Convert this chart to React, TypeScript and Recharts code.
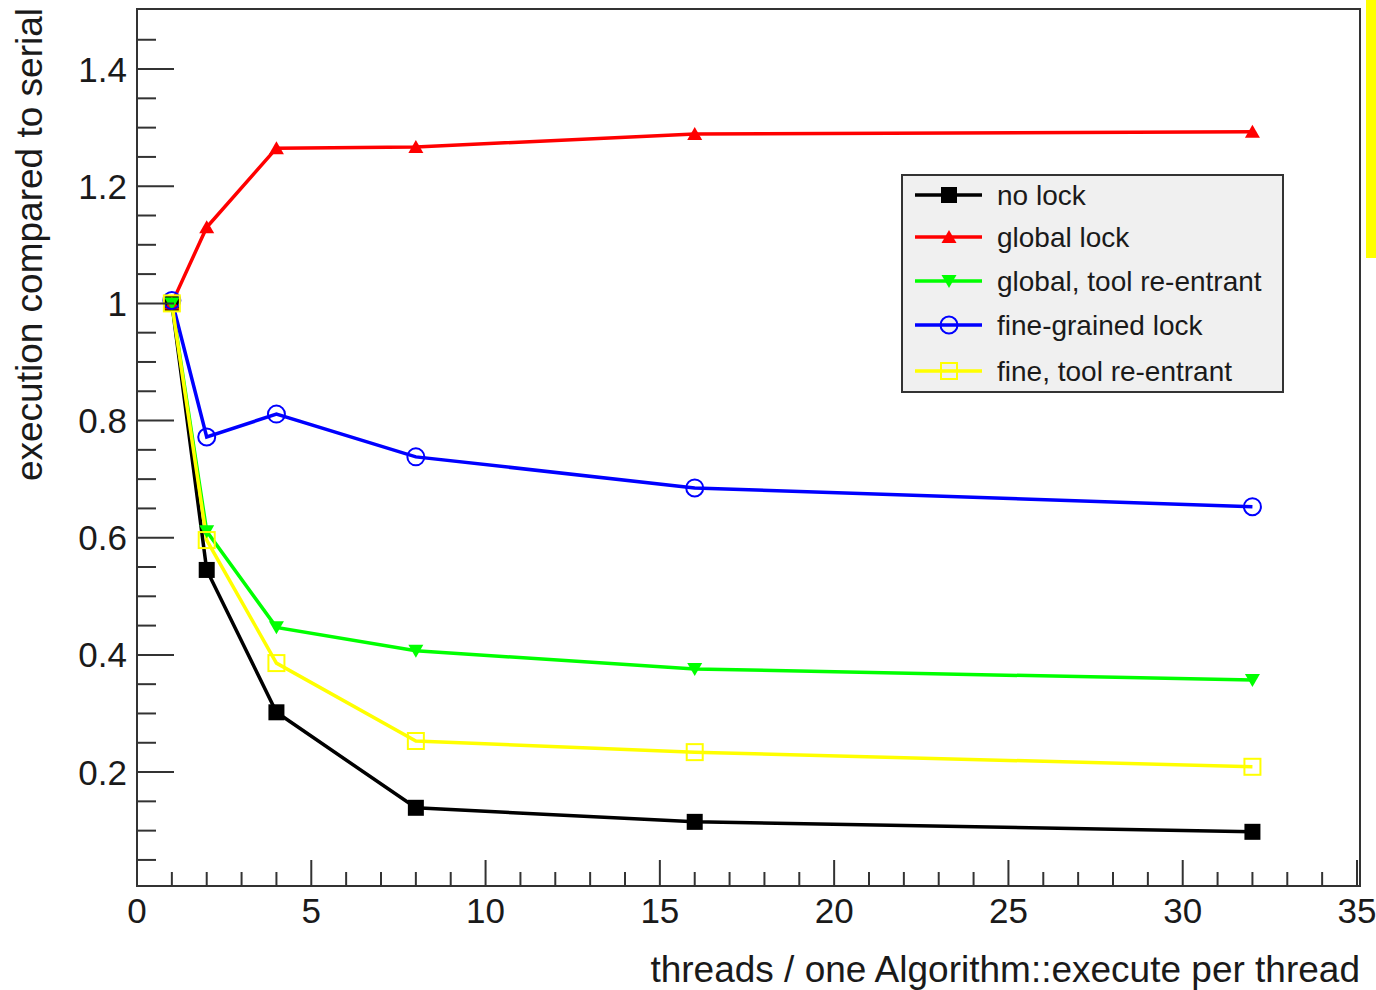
import { LineChart, Line, XAxis, YAxis, ReferenceArea, Legend } from "recharts"

const threads = [1, 2, 4, 8, 16, 32]
const noLock = [1.0, 0.545, 0.302, 0.139, 0.115, 0.098]
const globalLock = [1.0, 1.13, 1.265, 1.267, 1.289, 1.293]
const globalToolReentrant = [1.0, 0.611, 0.447, 0.407, 0.376, 0.357]
const fineGrainedLock = [1.005, 0.772, 0.811, 0.738, 0.685, 0.653]
const fineToolReentrant = [1.0, 0.596, 0.386, 0.253, 0.234, 0.209]

const xTicks = [0, 1, 2, 3, 4, 5, 6, 7, 8, 9, 10, 11, 12, 13, 14, 15, 16, 17, 18, 19, 20, 21, 22, 23, 24, 25, 26, 27, 28, 29, 30, 31, 32, 33, 34, 35]
const yTicks = [0.05, 0.1, 0.15, 0.2, 0.25, 0.3, 0.35, 0.4, 0.45, 0.5, 0.55, 0.6, 0.65, 0.7, 0.75, 0.8, 0.85, 0.9, 0.95, 1, 1.05, 1.1, 1.15, 1.2, 1.25, 1.3, 1.35, 1.4, 1.45]

const X_MAX = 35.086
const Y_MIN = 0.0055
const Y_MAX = 1.5025

const FONT = "'Liberation Sans', Arial, Helvetica, sans-serif"
const TEXT = "#1a1a1a"
const FRAME = "#333"

type MarkerKind = "square" | "triangleUp" | "triangleDown" | "circle" | "openSquare"

const series: { key: string; name: string; color: string; marker: MarkerKind }[] = [
  { key: "noLock", name: "no lock", color: "#000000", marker: "square" },
  { key: "globalLock", name: "global lock", color: "#ff0000", marker: "triangleUp" },
  { key: "globalTool", name: "global, tool re-entrant", color: "#00ff00", marker: "triangleDown" },
  { key: "fineLock", name: "fine-grained lock", color: "#0000ff", marker: "circle" },
  { key: "fineTool", name: "fine, tool re-entrant", color: "#ffff00", marker: "openSquare" },
]

const data = threads.map((t, i) => ({
  x: t,
  noLock: noLock[i],
  globalLock: globalLock[i],
  globalTool: globalToolReentrant[i],
  fineLock: fineGrainedLock[i],
  fineTool: fineToolReentrant[i],
}))

function Marker({ kind, cx, cy, color }: { kind: MarkerKind; cx: number; cy: number; color: string }) {
  switch (kind) {
    case "square":
      return <rect x={cx - 8} y={cy - 8} width={16} height={16} fill={color} />
    case "triangleUp":
      return <polygon points={`${cx - 7.5},${cy + 6} ${cx + 7.5},${cy + 6} ${cx},${cy - 7}`} fill={color} />
    case "triangleDown":
      return <polygon points={`${cx - 7.5},${cy - 6} ${cx + 7.5},${cy - 6} ${cx},${cy + 7}`} fill={color} />
    case "circle":
      return <circle cx={cx} cy={cy} r={8.5} fill="none" stroke={color} strokeWidth={2} />
    default:
      return <rect x={cx - 8} y={cy - 8} width={16} height={16} fill="none" stroke={color} strokeWidth={2} />
  }
}

function XTick(props: any) {
  const { x, y, payload } = props
  const v = payload.value as number
  const major = v % 5 === 0
  return (
    <g>
      <line x1={x} y1={y} x2={x} y2={y - (major ? 26 : 14)} stroke={FRAME} strokeWidth={2} />
      {major && (
        <text x={x} y={y + 37} textAnchor="middle" fontSize={35} fontFamily={FONT} fill={TEXT}>
          {v}
        </text>
      )}
    </g>
  )
}

function YTick(props: any) {
  const { x, y, payload } = props
  const v = payload.value as number
  const major = Math.abs(v / 0.2 - Math.round(v / 0.2)) < 1e-6
  const label = Math.abs(v - 1) < 1e-6 ? "1" : v.toFixed(1)
  return (
    <g>
      <line x1={x} y1={y} x2={x + (major ? 37 : 19)} y2={y} stroke={FRAME} strokeWidth={2} />
      {major && (
        <text x={x - 10} y={y + 12.5} textAnchor="end" fontSize={35} fontFamily={FONT} fill={TEXT}>
          {label}
        </text>
      )}
    </g>
  )
}

function LegendBox() {
  return (
    <svg width={383} height={219} style={{ display: "block" }}>
      <rect x={1} y={1} width={381} height={217} fill="#f0f0f0" stroke={FRAME} strokeWidth={2} />
      {series.map((s, i) => {
        const cy = [21, 63, 107, 151, 197][i]
        return (
          <g key={s.key}>
            <line x1={14} y1={cy} x2={81} y2={cy} stroke={s.color} strokeWidth={3.5} />
            <Marker kind={s.marker} cx={48} cy={cy} color={s.color} />
            <text x={96} y={cy + 10} fontSize={28} fontFamily={FONT} fill={TEXT}>
              {s.name}
            </text>
          </g>
        )
      })}
    </svg>
  )
}

export default function App() {
  return (
    <div style={{ position: "absolute", left: 0, top: 0, width: 1376, height: 990, background: "#fff" }}>
      <LineChart width={1376} height={990} data={data} margin={{ top: 9, right: 16, bottom: 44, left: 37 }}>
        <XAxis
          type="number"
          dataKey="x"
          domain={[0, X_MAX]}
          ticks={xTicks}
          interval={0}
          height={60}
          tickSize={0}
          tickMargin={0}
          axisLine={false}
          tickLine={false}
          tick={XTick}
          allowDataOverflow
        />
        <YAxis
          type="number"
          domain={[Y_MIN, Y_MAX]}
          ticks={yTicks}
          interval={0}
          width={100}
          tickSize={0}
          tickMargin={0}
          axisLine={false}
          tickLine={false}
          tick={YTick}
          allowDataOverflow
        />
        <ReferenceArea x1={0} x2={X_MAX} y1={Y_MIN} y2={Y_MAX} fill="none" stroke={FRAME} strokeWidth={2} ifOverflow="visible" />
        {series.map((s) => (
          <Line
            key={s.key}
            type="linear"
            dataKey={s.key}
            name={s.name}
            stroke={s.color}
            strokeWidth={3.5}
            isAnimationActive={false}
            activeDot={false}
            dot={(p: any) => <Marker key={`${s.key}-${p.index}`} kind={s.marker} cx={p.cx} cy={p.cy} color={s.color} />}
          />
        ))}
        <Legend
          layout="vertical"
          align="center"
          verticalAlign="middle"
          content={() => <LegendBox />}
          wrapperStyle={{ left: 901, top: 174, width: 383, height: 219 }}
        />
        <text x={1360} y={982} textAnchor="end" fontSize={37} fontFamily={FONT} fill={TEXT}>
          threads / one Algorithm::execute per thread
        </text>
        <text x={0} y={0} transform="translate(42, 8) rotate(-90)" textAnchor="end" fontSize={37} fontFamily={FONT} fill={TEXT}>
          execution compared to serial
        </text>
      </LineChart>
      <div style={{ position: "absolute", left: 1366, top: 0, width: 10, height: 258, background: "#ffff00" }} />
    </div>
  )
}
